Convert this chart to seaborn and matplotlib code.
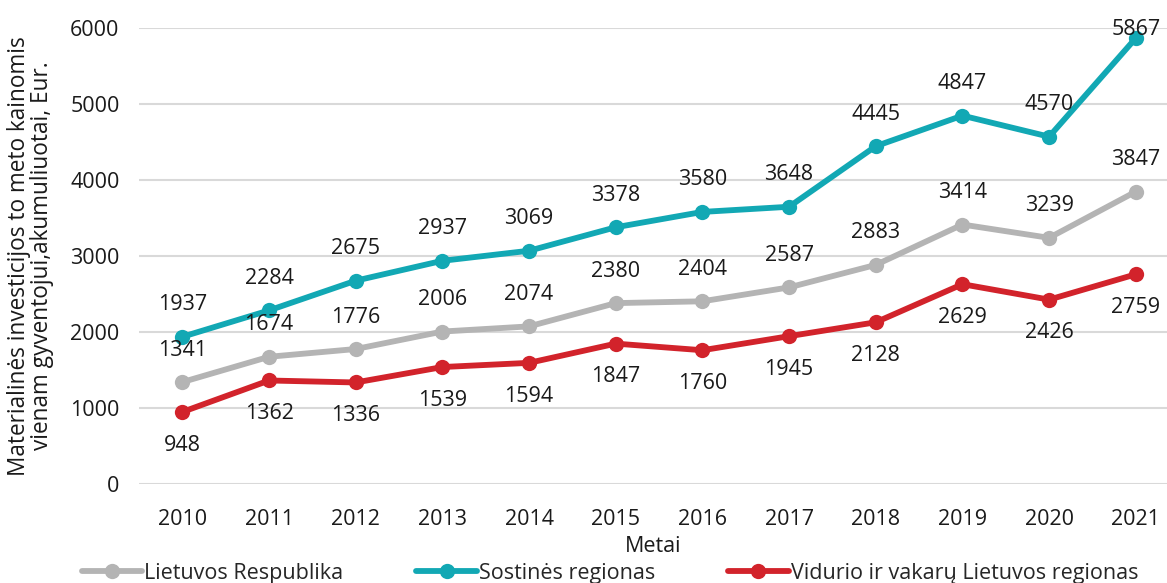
import matplotlib
matplotlib.use('Agg')
import matplotlib.pyplot as plt
import seaborn as sns
import pandas as pd
import numpy as np

years = ['2010', '2011', '2012', '2013', '2014', '2015', '2016', '2017', '2018', '2019', '2020', '2021']
lietuva = [1341, 1674, 1776, 2006, 2074, 2380, 2404, 2587, 2883, 3414, 3239, 3847]
sostine = [1937, 2284, 2675, 2937, 3069, 3378, 3580, 3648, 4445, 4847, 4570, 5867]
vidurio = [948, 1362, 1336, 1539, 1594, 1847, 1760, 1945, 2128, 2629, 2426, 2759]

series_names = ['Lietuvos Respublika', 'Sostinės regionas', 'Vidurio ir vakarų Lietuvos regionas']
colors = ['#B4B4B4', '#12A8B4', '#D2232B']
fs = 15.5

sns.set_style('white')
plt.rcParams['font.family'] = ['Open Sans', 'DejaVu Sans']

rows = []
for name, vals in zip(series_names, [lietuva, sostine, vidurio]):
    for i, v in enumerate(vals):
        rows.append({'x': i, 'value': v, 'series': name})
df = pd.DataFrame(rows)

fig = plt.figure(figsize=(11.67, 5.83), dpi=100)
ax = fig.add_axes([139 / 1167, (583 - 484) / 583, (1167 - 139) / 1167, (484 - 28) / 583])

sns.lineplot(data=df, x='x', y='value', hue='series', palette=colors,
             marker='o', markersize=11, markeredgewidth=0, linewidth=4.2,
             ax=ax, legend=True)

# data labels: grey and teal above, red below
for vals, above in [(lietuva, True), (sostine, True), (vidurio, False)]:
    for i, v in enumerate(vals):
        off = 23 if above else -24
        if above and v > 5600:
            off = 6  # squeezed at top edge, as in the original
        ax.annotate(str(v), (i, v), xytext=(0, off),
                    textcoords='offset points', ha='center', va='center',
                    fontsize=fs, color='#1a1a1a', annotation_clip=False)

ax.set_ylim(0, 6000)
ax.set_xlim(-0.5, 11.36)
ax.set_yticks(np.arange(0, 6001, 1000))
ax.set_xticks(range(len(years)))
ax.set_xticklabels(years)
ax.tick_params(axis='both', labelsize=fs, length=0, colors='#1a1a1a')
ax.tick_params(axis='x', pad=18)
ax.tick_params(axis='y', pad=14)
ax.yaxis.grid(True, color='#D9D9D9', linewidth=1.5)
ax.set_axisbelow(True)
for s in ax.spines.values():
    s.set_visible(False)

ax.set_xlabel('Metai', fontsize=fs, color='#1a1a1a', labelpad=4)
ax.set_ylabel('Materialinės investicijos to meto kainomis\nvienam gyventojui,akumuliuotai, Eur.',
              fontsize=16.3, color='#1a1a1a', linespacing=0.95)
ax.yaxis.set_label_coords(-85 / 1028, 0.5)

handles, labels = ax.get_legend_handles_labels()
ax.legend(handles, labels, loc='center', bbox_to_anchor=(610 / 1167, 1 - 573 / 583),
          bbox_transform=fig.transFigure,
          ncol=3, frameon=False, fontsize=fs, handlelength=2.8, columnspacing=3.4,
          handletextpad=0.1)

fig.savefig('out.png', dpi=100)
